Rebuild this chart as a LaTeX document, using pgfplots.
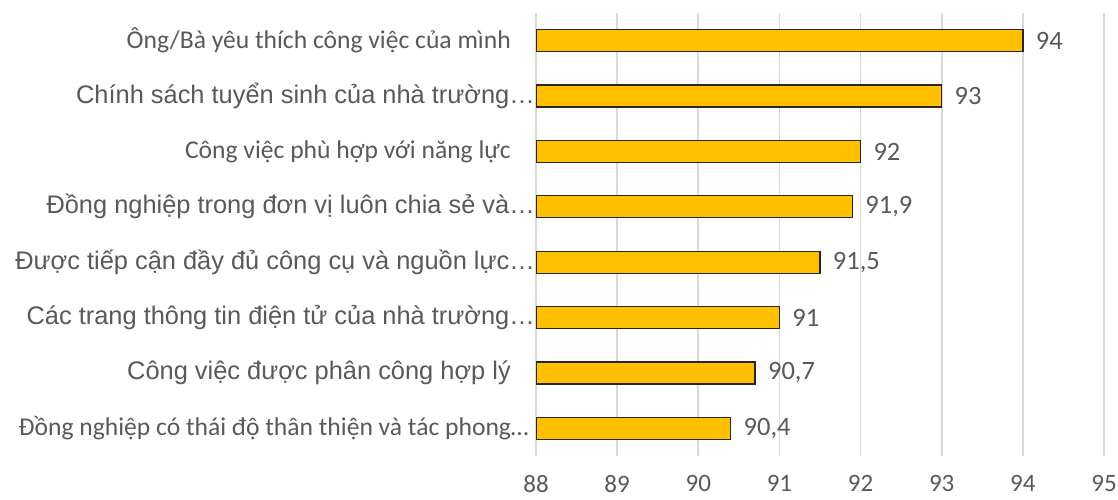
\documentclass[border=0pt]{standalone}
\usepackage{fontspec}
\setmainfont{Carlito}
\newfontfamily\arialf{Liberation Sans}
\usepackage{pgfplots}
\pgfplotsset{compat=1.18}
\definecolor{bargold}{HTML}{FFC000}
\definecolor{txt}{HTML}{595959}
\definecolor{gridc}{HTML}{D9D9D9}
\newcommand{\cf}{\fontsize{25.6}{30}\selectfont}
\newcommand{\af}{\arialf\fontsize{25.4}{30}\selectfont}
\begin{document}
\begin{tikzpicture}[x=1pt,y=1pt]
\path[use as bounding box] (0,0) rectangle (1118,500);
\begin{axis}[
  at={(536pt,44pt)}, anchor=south west, scale only axis,
  width=568pt, height=443pt,
  xmin=88, xmax=95, ymin=-0.5, ymax=7.5,
  xtick={88,89,90,91,92,93,94,95}, ytick={0,1,2,3,4,5,6,7},
  yticklabels={
    {\cf Đồng nghiệp có thái độ thân thiện và tác phong…\kern6pt},
    {\af Công việc được phân công hợp lý\kern24pt},
    {\af Các trang thông tin điện tử của nhà trường…},
    {\af Được tiếp cận đầy đủ công cụ và nguồn lực…},
    {\af Đồng nghiệp trong đơn vị luôn chia sẻ và…},
    {\cf Công việc phù hợp với năng lực\kern24pt},
    {\af Chính sách tuyển sinh của nhà trường…},
    {\cf Ông/Bà yêu thích công việc của mình\kern24pt}
  },
  yticklabel style={anchor=east, inner sep=0pt, xshift=-1pt, text=txt},
  xticklabel style={font=\fontsize{25}{28}\selectfont, text=txt, yshift=-16pt},
  /pgf/number format/assume math mode=true,
  /pgf/number format/use comma,
  axis line style={draw=none},
  major tick length=0pt,
  xmajorgrids, grid style={gridc, line width=1.6pt},
  xbar, bar width=22pt, bar shift=0pt,
  nodes near coords,
  nodes near coords style={font=\fontsize{26.5}{28}\selectfont, text=txt, xshift=9pt},
]
\addplot[fill=bargold, draw=black!85, line width=1.3pt] coordinates {
  (90.4,0) (90.7,1) (91,2) (91.5,3) (91.9,4) (92,5) (93,6) (94,7)
};
\end{axis}
\end{tikzpicture}
\end{document}
